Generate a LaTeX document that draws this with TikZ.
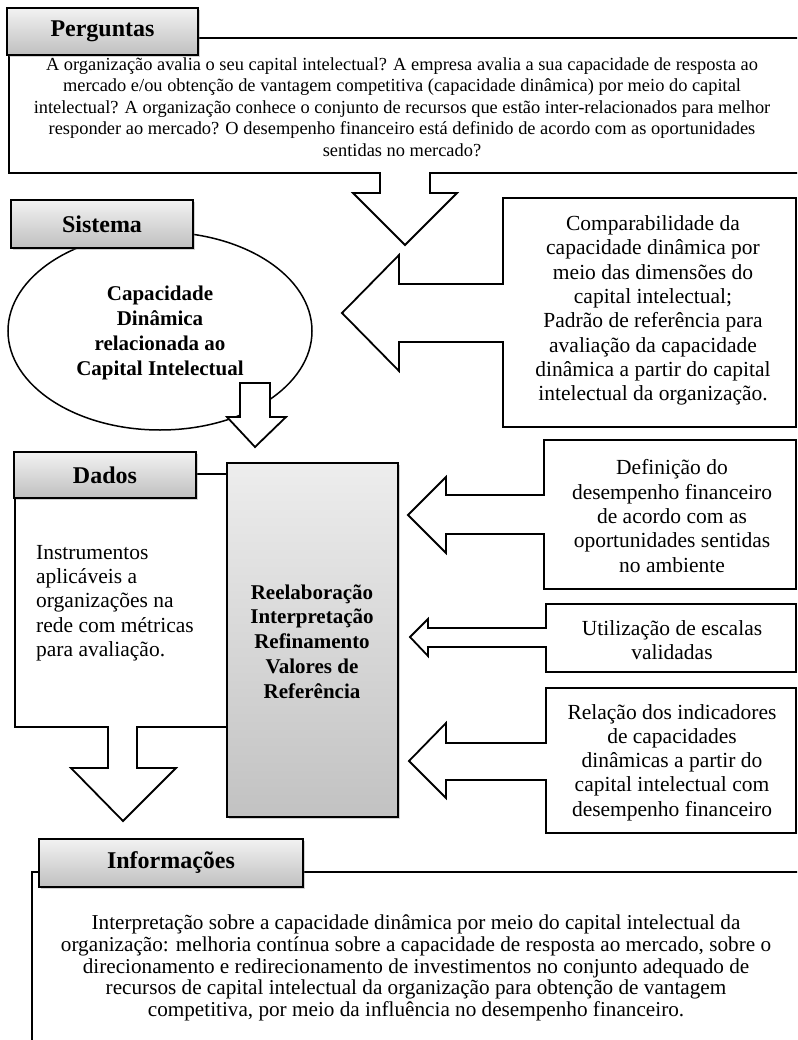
\documentclass[tikz,border=0pt]{standalone}
\usepackage{fontspec}
\setmainfont{Liberation Serif}
\usetikzlibrary{shapes.geometric,shadows}
\begin{document}
\begin{tikzpicture}[x=1pt,y=-1pt,
  frame/.style={draw=black,line width=1.8pt,line join=miter},
  callout/.style={frame,fill=white},
  tag/.style={draw=black,line width=1.6pt,top color=gray!10,bottom color=gray!50,
    inner sep=0pt,font=\fontsize{24}{26}\selectfont\bfseries,
    drop shadow={opacity=0.35,shadow xshift=2pt,shadow yshift=-2pt}},
  body/.style={inner sep=0pt,align=center,font=\fontsize{21.5}{24.3}\selectfont},
  question/.style={inner sep=0pt,align=center,font=\fontsize{18.4}{21.5}\selectfont},
  summary/.style={inner sep=0pt,align=center,font=\fontsize{21.2}{21.8}\selectfont},
  heavy/.style={inner sep=0pt,align=center,font=\fontsize{21}{24.8}\selectfont\bfseries}]
\useasboundingbox (0,0) rectangle (797,1040);
\begin{scope}
\clip (0,0) rectangle (797,1040);

% Perguntas: frame with a downward arrow
\draw[callout] (805,38) -- (9,38) -- (9,173) -- (380,173) -- (380,193) -- (353,193)
  -- (405,245) -- (457,193) -- (430,193) -- (430,173) -- (805,173);
\node[question] (pergText) at (402,107) {A organização avalia o seu capital intelectual? A empresa avalia a sua capacidade de resposta ao\\
mercado e/ou obtenção de vantagem competitiva (capacidade dinâmica) por meio do capital\\
intelectual? A organização conhece o conjunto de recursos que estão inter-relacionados para melhor\\
responder ao mercado? O desempenho financeiro está definido de acordo com as oportunidades\\
sentidas no mercado?};
\node[tag,minimum width=191pt,minimum height=47pt] (pergLabel) at (102.5,31.5) {Perguntas};

% Sistema: ellipse with a small down arrow
\node[draw,line width=1.5pt,ellipse,fill=white,minimum width=304pt,minimum height=198pt,inner sep=0pt] (sistema) at (160,331) {};
\node[heavy] (sisText) at (160,333) {Capacidade\\Dinâmica\\relacionada ao\\Capital Intelectual};
\draw[callout] (240,383) -- (270,383) -- (270,417) -- (286,417) -- (255,447) -- (227,417) -- (240,417) -- cycle;
\node[tag,minimum width=182pt,minimum height=48pt] (sisLabel) at (102,224) {Sistema};

% Comparabilidade: callout pointing left
\draw[callout] (796,198) -- (503,198) -- (503,284) -- (399,284) -- (399,255) -- (342,313)
  -- (399,371) -- (399,342) -- (503,342) -- (503,427) -- (796,427) -- cycle;
\node[body] (compText) at (653,310.5) {Comparabilidade da\\capacidade dinâmica por\\meio das dimensões do\\capital intelectual;\\Padrão de referência para\\avaliação da capacidade\\dinâmica a partir do capital\\intelectual da organização.};

% Dados: frame with a downward arrow
\draw[callout] (227,474) -- (15,474) -- (15,727) -- (108,727) -- (108,768) -- (71,768)
  -- (123,821) -- (176,768) -- (137,768) -- (137,727) -- (227,727);
\node[body,align=left,anchor=west] (dadosText) at (36,603) {Instrumentos\\aplicáveis a\\organizações na\\rede com métricas\\para avaliação.};
\node[tag,minimum width=182pt,minimum height=46pt] (dadosLabel) at (105,475) {Dados};

% Central shaded box
\node[draw=black,line width=1.6pt,top color=gray!14,bottom color=gray!48,
  minimum width=171pt,minimum height=354pt,inner sep=0pt,
  drop shadow={opacity=0.35,shadow xshift=2pt,shadow yshift=-2pt}] (centro) at (312.5,640) {};
\node[heavy] (centroText) at (312,641.5) {Reelaboração\\Interpretação\\Refinamento\\Valores de\\Referência};

% Definição callout
\draw[callout] (796,440) -- (544,440) -- (544,495) -- (446,495) -- (446,477) -- (408,515)
  -- (446,553) -- (446,534) -- (544,534) -- (544,589) -- (796,589) -- cycle;
\node[body] (defText) at (672,516) {Definição do\\desempenho financeiro\\de acordo com as\\oportunidades sentidas\\no ambiente};

% Utilização callout
\draw[callout] (796,604) -- (546,604) -- (546,628) -- (428,628) -- (428,619) -- (410,637)
  -- (428,656) -- (428,647) -- (546,647) -- (546,672) -- (796,672) -- cycle;
\node[body] (utilText) at (672,640) {Utilização de escalas\\validadas};

% Relação callout
\draw[callout] (796,688) -- (546,688) -- (546,743) -- (446,743) -- (446,723) -- (409,761)
  -- (446,798) -- (446,780) -- (546,780) -- (546,833) -- (796,833) -- cycle;
\node[body] (relText) at (672,762.5) {Relação dos indicadores\\de capacidades\\dinâmicas a partir do\\capital intelectual com\\desempenho financeiro};

% Informações frame
\draw[frame] (805,872) -- (32,872) -- (32,1045);
\node[summary] (infoText) at (416,968) {Interpretação sobre a capacidade dinâmica por meio do capital intelectual da\\
organização: melhoria contínua sobre a capacidade de resposta ao mercado, sobre o\\
direcionamento e redirecionamento de investimentos no conjunto adequado de\\
recursos de capital intelectual da organização para obtenção de vantagem\\
competitiva, por meio da influência no desempenho financeiro.};
\node[tag,minimum width=264pt,minimum height=48pt] (infoLabel) at (171,863) {Informações};
\end{scope}
\end{tikzpicture}
\end{document}
